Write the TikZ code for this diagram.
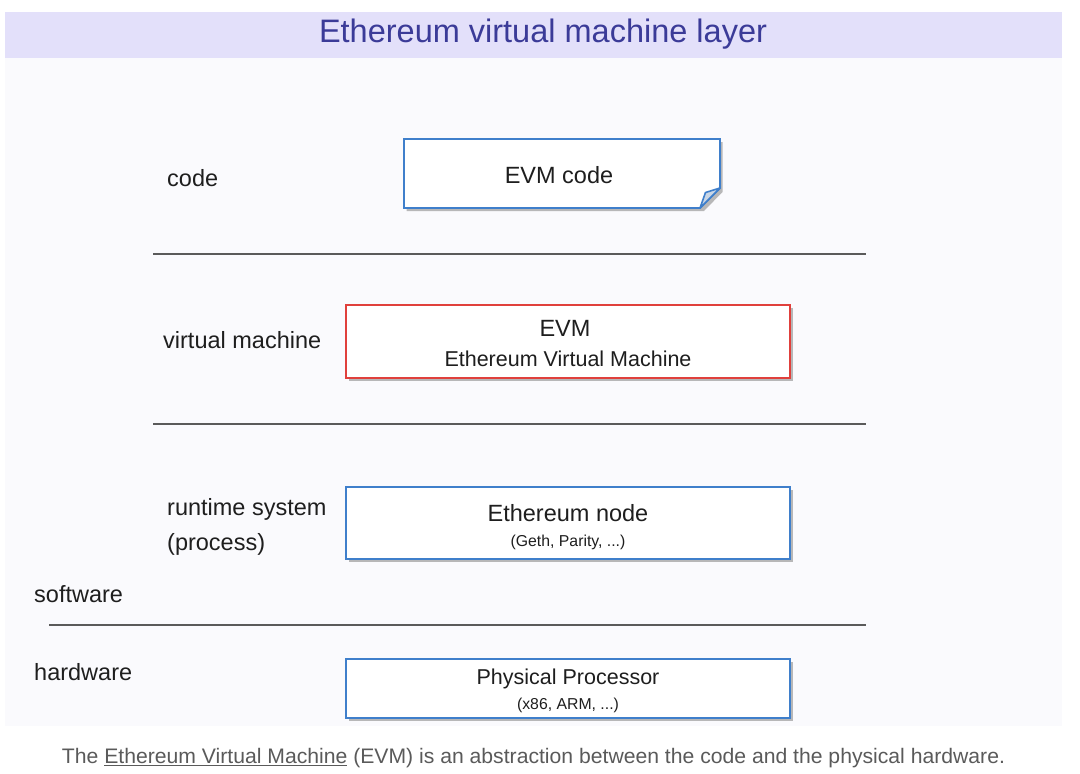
\documentclass[tikz,border=0pt]{standalone}
\usepackage{fontspec}
\setmainfont{Liberation Sans}
\usepackage{graphicx}
\usetikzlibrary{shadows}
\definecolor{slidebg}{HTML}{FAFAFD}
\definecolor{titlebg}{HTML}{E3E0FA}
\definecolor{titlefg}{HTML}{3B3B98}
\definecolor{boxblue}{HTML}{3F7FCB}
\definecolor{boxred}{HTML}{E0403C}
\definecolor{rulegray}{HTML}{5A5A5A}
\definecolor{txt}{HTML}{1E1E1E}
\definecolor{captxt}{HTML}{5A5A5A}
\definecolor{foldfill}{HTML}{C9D6E6}
\tikzset{
  layerbox/.style={draw=boxblue, line width=1.8pt, fill=white, inner sep=0pt,
    drop shadow={shadow xshift=2.5pt, shadow yshift=-3pt, opacity=0.45, fill=black!60}},
  redbox/.style={layerbox, draw=boxred},
  sep/.style={draw=rulegray, line width=1.6pt},
  lbl/.style={anchor=west, inner sep=0pt, text=txt, font=\fontsize{23.5}{35}\selectfont, align=left},
  big/.style={inner sep=0pt, text=txt, font=\fontsize{23.5}{28}\selectfont},
  mid/.style={inner sep=0pt, text=txt, font=\fontsize{21.5}{26}\selectfont},
  small/.style={inner sep=0pt, text=txt, font=\fontsize{15.8}{19}\selectfont},
}
\begin{document}
\begin{tikzpicture}[x=1pt,y=-1pt]
\useasboundingbox (0,0) rectangle (1080,774);
\fill[white] (0,0) rectangle (1080,774);
% slide background and title band
\fill[slidebg] (5,58) rectangle (1062,726);
\fill[titlebg] (5,12) rectangle (1062,58);
\node[inner sep=0pt, text=titlefg, font=\fontsize{32.5}{36}\selectfont] (title) at (543,34.5) {Ethereum virtual machine layer};

% EVM code box with folded corner
\fill[black!60, opacity=0.45] (406.5,142) -- (722.5,142) -- (722.5,192) -- (704,211) -- (406.5,211) -- cycle;
\filldraw[draw=boxblue, fill=white, line width=1.8pt, line join=miter]
  (404,139) -- (720,139) -- (720,188) -- (700,208) -- (404,208) -- cycle;
\filldraw[draw=boxblue, fill=foldfill, line width=1.6pt, line join=round]
  (720,188) -- (705.5,192.5) -- (700,208) -- cycle;
\node[big] (evmcode) at (559,175) {EVM code};

% EVM box
\node[redbox, minimum width=444pt, minimum height=73pt] (evmbox) at (568,341.5) {};
\node[big] (evm) at (565,328) {EVM};
\node[mid] (evmfull) at (568,359) {Ethereum Virtual Machine};

% Ethereum node box
\node[layerbox, minimum width=444pt, minimum height=72pt] (nodebox) at (568,523) {};
\node[big] (ethnode) at (568,513) {Ethereum node};
\node[small] (geth) at (568,542) {(Geth, Parity, ...)};

% Physical processor box
\node[layerbox, minimum width=444pt, minimum height=59pt] (procbox) at (568,688.5) {};
\node[mid] (proc) at (568,679) {Physical Processor};
\node[small] (x86) at (568,705) {(x86, ARM, ...)};

% separators
\coordinate (s1a) at (153,254); \coordinate (s1b) at (866,254);
\coordinate (s2a) at (153,424); \coordinate (s2b) at (866,424);
\coordinate (s3a) at (49,625);  \coordinate (s3b) at (866,625);
\draw[sep] (s1a) -- (s1b);
\draw[sep] (s2a) -- (s2b);
\draw[sep] (s3a) -- (s3b);

% labels
\node[lbl] (lcode) at (167,178) {code};
\node[lbl] (lvm) at (163,340) {virtual machine};
\node[lbl] (lrt) at (167,527) {runtime system\\(process)};
\node[lbl] (lsw) at (34,594) {software};
\node[lbl] (lhw) at (34,672) {hardware};

% caption
\node[inner sep=0pt, text=captxt, font=\fontsize{21}{24}\selectfont] (caption) at (533.5,758.5)
  {\resizebox{943pt}{\height}{The \underline{Ethereum Virtual Machine} (EVM) is an abstraction between the code and the physical hardware.}};
\end{tikzpicture}
\end{document}
